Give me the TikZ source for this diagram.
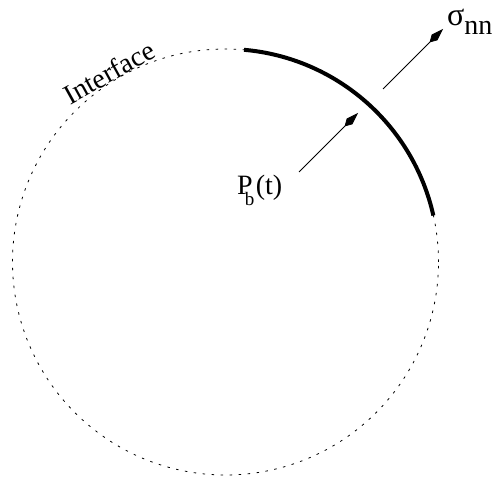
\documentclass[tikz,border=0pt]{standalone}
\usepackage{fontspec}
\setmainfont{Liberation Serif}
\usetikzlibrary{arrows.meta}

\tikzset{
  force/.style={line width=0.8pt, -{Kite[length=19pt,width=8pt,inset=7pt]}},
  label/.style={font=\fontsize{28}{32}\selectfont, inner sep=0pt}
}

\begin{document}
\begin{tikzpicture}[x=1pt,y=1pt]

% Canvas
\useasboundingbox (0,0) rectangle (497,481);

% Interface (dotted circle)
\coordinate (c) at (225.5,219);
\draw[line width=0.8pt, dash pattern=on 2.5pt off 6.5pt] (c) circle (213pt);

% Loaded part of the interface
\draw[line width=4pt] (c) ++(85:213pt) arc (85:12.6:213pt);

% Arrow ends
\coordinate (pin) at (299,309);
\coordinate (pout) at (358,368);
\coordinate (sin) at (383,392);
\coordinate (sout) at (443,452);

% Arrows
\draw[force] (pin) -- (pout);
\draw[force] (sin) -- (sout);

% Labels
\node[label, rotate=29, anchor=base] (iface) at (114,400) {Interface};
\node[label, anchor=base west] (press) at (237,286)
  {P\hspace{-8pt}\raisebox{-11pt}{\fontsize{19}{19}\selectfont b}\hspace{1.5pt}(t)};
\node[label, anchor=base west] (sigma) at (447,455)
  {{\fontsize{32}{32}\selectfont σ}\raisebox{-9pt}{nn}};

\end{tikzpicture}
\end{document}
